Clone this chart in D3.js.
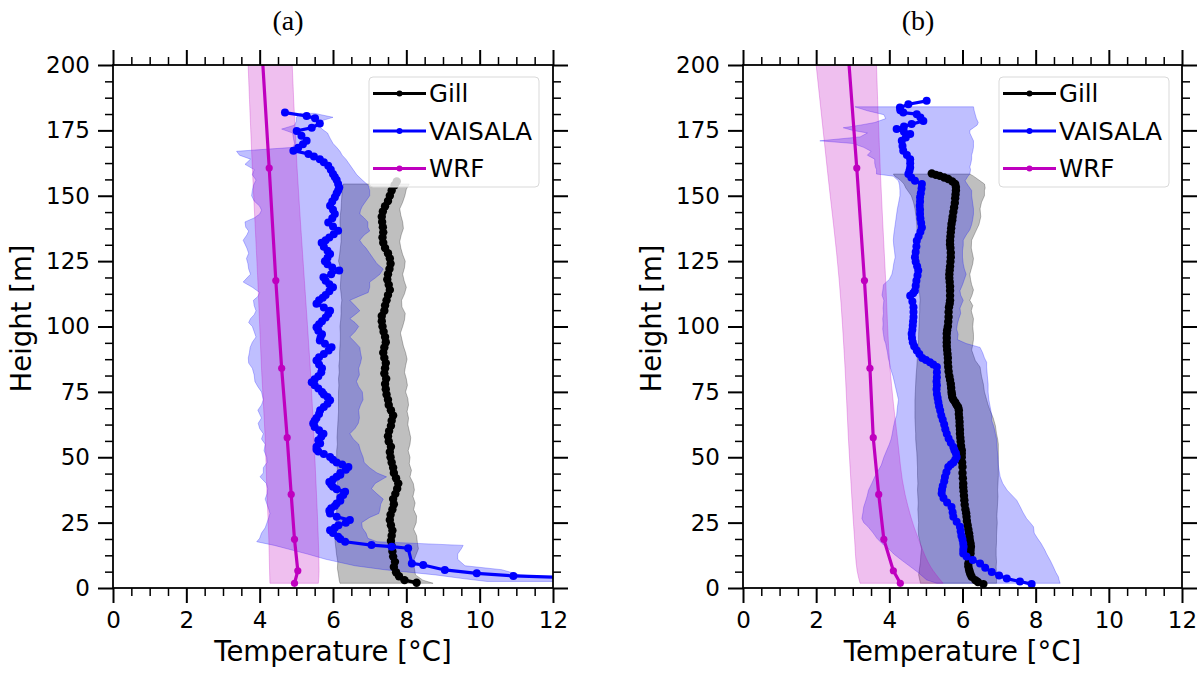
<!DOCTYPE html>
<html><head><meta charset="utf-8">
<script src="https://cdn.jsdelivr.net/npm/d3@7"></script>
<style>body{margin:0;background:#fff}</style>
</head><body>
<script>
// ---------------- DATA ----------------
const xMajorTicks = [0, 2, 4, 6, 8, 10, 12];
const yMajorTicks = [0, 25, 50, 75, 100, 125, 150, 175, 200];
const seriesNames = ["Gill", "VAISALA", "WRF"];

// WRF model levels (height m) and temperatures
const wrfHeights = [1.8, 6.6, 18.6, 35.8, 57.5, 84, 117.6, 160.6, 213];
const wrfA_T  = [4.95, 5.04, 4.95, 4.86, 4.75, 4.6, 4.44, 4.26, 4.03];
const wrfA_lo = [4.28, 4.27, 4.25, 4.2, 4.15, 4.05, 3.95, 3.8, 3.65];
const wrfA_hi = [5.6, 5.62, 5.6, 5.55, 5.48, 5.38, 5.22, 5.02, 4.85];
const wrfB_T  = [4.3, 4.11, 3.85, 3.71, 3.56, 3.47, 3.32, 3.11, 2.83];
const wrfB_lo = [3.2, 3.12, 3.05, 2.97, 2.88, 2.79, 2.63, 2.3, 1.9];
const wrfB_hi = [5.47, 5.2, 4.8, 4.43, 4.22, 4.02, 3.9, 3.75, 3.62];

// Gill profile (a): [height, temperature]
const gillA = [[2,8.28],[3,7.95],[4.5,7.8],[6,7.72],[8,7.66],[10,7.69],[12,7.64],[14,7.62],[16,7.6],[18,7.58],[20,7.6],[22,7.62],[24,7.58],[26,7.55],[28,7.57],[30,7.62],[32,7.66],[34,7.64],[36,7.7],[38,7.75],[40,7.78],[42,7.72],[44,7.66],[46,7.64],[48,7.6],[50,7.57],[52,7.55],[54,7.58],[56,7.52],[58,7.5],[60,7.53],[62,7.58],[64,7.6],[66,7.64],[68,7.58],[70,7.52],[72,7.5],[74,7.46],[76,7.44],[78,7.42],[80,7.45],[82,7.4],[84,7.42],[86,7.44],[88,7.4],[90,7.37],[92,7.4],[94,7.44],[96,7.42],[98,7.38],[100,7.35],[102,7.33],[104,7.33],[106,7.4],[108,7.42],[110,7.46],[112,7.5],[114,7.55],[116,7.52],[118,7.48],[120,7.5],[122,7.54],[124,7.57],[126,7.55],[128,7.5],[130,7.42],[132,7.37],[134,7.35],[136,7.37],[138,7.36],[140,7.34],[142,7.33],[144,7.36],[146,7.42],[148,7.5],[150,7.55],[152,7.6],[154,7.68],[155.5,7.74]];

// Gill spread (a): [height, low, high]
const gillBandA = [[1.8,6.19,8.73],[3,6.17,8.45],[5,6.15,8.25],[7.5,6.12,8.22],[10,6.13,8.19],[12.5,6.1,8.26],[15,6.08,8.33],[17.5,6.06,8.3],[20,6.05,8.28],[22.5,6.07,8.2],[25,6.08,8.27],[27.5,6.1,8.28],[30,6.1,8.2],[32.5,6.11,8.24],[35,6.1,8.18],[37.5,6.12,8.22],[40,6.12,8.19],[42.5,6.1,8.1],[45,6.12,8.14],[47.5,6.11,8.08],[50,6.1,8.1],[52.5,6.1,8.05],[55,6.12,8.1],[57.5,6.11,8.12],[60,6.12,8.08],[62.5,6.13,8.04],[65,6.14,8.06],[67.5,6.15,8.02],[70,6.15,8.06],[72.5,6.15,8.04],[75,6.15,7.98],[77.5,6.16,8.03],[80,6.15,8.0],[82.5,6.17,7.95],[85,6.16,7.98],[87.5,6.18,8.02],[90,6.18,7.98],[92.5,6.19,7.92],[95,6.2,7.88],[97.5,6.2,7.84],[100,6.19,7.9],[102.5,6.21,7.95],[105,6.22,7.97],[107.5,6.22,7.88],[110,6.24,7.87],[112.5,6.22,7.95],[115,6.2,8.0],[117.5,6.21,7.94],[120,6.22,7.9],[122.5,6.2,7.95],[125,6.15,7.97],[127.5,6.18,7.9],[130,6.2,7.85],[132.5,6.22,7.82],[135,6.22,7.86],[137.5,6.2,7.92],[140,6.19,7.9],[142.5,6.2,7.85],[145,6.22,7.82],[147.5,6.23,7.9],[150,6.24,7.96],[152.5,6.26,8.0],[154.5,6.28,8.08]];

// VAISALA profile (a): [height, temperature]
const vaisA = [[3.8,12.8],[4.6,10.92],[5.6,9.92],[6.9,9.05],[8.8,8.46],[9.4,8.15],[15.2,8.05],[15.8,7.6],[16.4,7.05],[17.7,6.33],[18.7,6.2],[19.6,6.14],[21,6.0],[22.1,5.92],[23,6.05],[24,6.15],[25,6.35],[26,6.46],[27.2,6.1],[28.5,5.92],[29.5,5.9],[30.5,5.95],[31.4,6.05],[32.3,6.1],[33.4,6.2],[34.5,6.2],[35.6,6.28],[36.8,6.33],[37.8,6.1],[38.7,6.0],[39.6,5.95],[40.5,5.9],[41.5,6.0],[42.5,6.1],[43.3,6.2],[44,6.2],[45.2,6.35],[46.3,6.42],[47.2,6.25],[48,6.1],[49,6.0],[50.1,5.92],[51.2,5.75],[52.2,5.6],[53,5.55],[54,5.55],[55.3,5.65],[56.5,5.6],[57.8,5.68],[59,5.74],[60.3,5.62],[61.6,5.5],[62.9,5.46],[64,5.5],[65,5.55],[66.5,5.62],[68,5.65],[69.2,5.75],[70.5,5.85],[71.8,5.92],[73,5.85],[74,5.75],[75,5.7],[76.3,5.6],[77.5,5.5],[78.7,5.42],[79.8,5.5],[81,5.6],[82.5,5.68],[84,5.7],[85.5,5.62],[87,5.55],[88.2,5.62],[89.5,5.75],[90.8,5.88],[92.1,5.96],[93.4,5.78],[94.6,5.64],[95.8,5.66],[97,5.7],[98.4,5.6],[99.7,5.55],[100.9,5.62],[102,5.7],[103.4,5.8],[104.8,5.87],[106,5.92],[107.3,5.75],[108.7,5.55],[110,5.62],[111,5.72],[112,5.8],[113.5,5.9],[115,6.0],[116.2,5.9],[117.5,5.8],[118.8,5.74],[120,5.95],[121.4,6.17],[122.6,5.98],[123.8,5.85],[125,5.78],[126.3,5.85],[127.7,5.92],[129,5.85],[130.5,5.75],[132,5.69],[133,5.8],[134,5.9],[135.3,6.02],[136.6,6.14],[138.2,6.0],[139.8,5.87],[141.4,5.98],[143,6.05],[144.6,6.0],[146.2,5.92],[147.8,5.98],[149.4,6.05],[151,6.1],[152,6.14],[153.2,6.17],[154.5,6.14],[156,6.1],[157.2,6.05],[158.3,6.0],[159.9,5.94],[161.5,5.87],[162.8,5.75],[164,5.64],[165,5.48],[166,5.33],[167.2,4.92],[168.4,5.05],[169.7,5.18],[171,5.28],[172.9,5.14],[174.8,5.01],[176,5.42],[177.6,5.64],[179.6,5.51],[180.5,5.28],[181.8,4.69]];

// VAISALA spread (a): [height, low, high]
const vaisBandA = [[2.5,10.2,13],[3.5,9.6,12.5],[5,8.8,11.1],[7,7.4,10.6],[8.5,6.6,9.6],[11,5.8,9.4],[13,5.3,9.4],[15,4.75,9.5],[16.3,4.4,9.55],[17.7,3.92,7.2],[19,4.0,6.95],[21,4.05,6.9],[23,4.15,6.8],[25,4.2,6.78],[27,4.25,7.0],[28.5,4.28,7.25],[30,4.25,7.28],[32,4.2,7.3],[34,4.15,7.37],[36,4.2,7.2],[38,4.22,7.05],[40,4.18,7.15],[42.5,4.01,7.46],[44,4.1,7.2],[46,4.1,7.0],[48,4.2,6.85],[50,4.19,6.82],[52.5,4.12,6.75],[55,4.15,6.7],[57,4.05,6.55],[59,4.1,6.46],[61,4.0,6.6],[63,3.96,6.69],[65,4.05,6.72],[68,3.95,6.7],[70,4.05,6.75],[72,4.1,6.82],[75,4.05,6.8],[77,3.95,6.7],[79,3.87,6.64],[81.5,3.85,6.72],[84,3.8,6.7],[86,3.7,6.75],[88,3.69,6.78],[90,3.72,6.75],[92,3.74,6.73],[94,3.8,6.6],[96,3.9,6.46],[98,3.85,6.6],[100,3.8,6.7],[101.5,3.7,6.6],[103,3.75,6.46],[104.5,3.85,6.6],[106,3.9,6.73],[108,3.85,6.6],[110,3.83,6.46],[111.5,3.95,6.7],[113,4.0,6.96],[115,3.8,7.0],[117,3.55,7.0],[118.5,3.65,7.15],[120,3.75,7.28],[122,3.7,7.37],[124,3.68,7.2],[126,3.64,7.1],[128,3.7,7.0],[130,3.65,6.9],[131.5,3.6,6.8],[133,3.55,6.73],[135,3.65,6.85],[136.5,3.7,7.0],[138,3.62,6.95],[140,3.6,6.95],[141.5,3.85,6.85],[143,4.0,6.73],[144.5,4.05,6.75],[146,4.0,6.8],[148,3.85,6.9],[150,3.78,7.0],[152,3.8,7.0],[154,3.83,6.96],[156,3.9,6.8],[158,3.8,6.65],[160,3.85,6.55],[162,3.6,6.45],[164,3.75,6.35],[165.5,3.45,6.25],[167,3.37,6.19],[168.5,4.92,6.1],[170,4.95,6.0],[172,4.92,5.92],[174,4.9,5.85],[175.5,4.6,5.7],[177,4.95,5.6],[178.5,5.0,5.65],[180,5.0,6.0],[181.5,5.1,5.5]];

// Gill profile (b)
const gillB = [[1.5,6.57],[2.3,6.42],[3,6.35],[4.3,6.25],[5.2,6.22],[6,6.2],[7,6.18],[8.2,6.16],[9.4,6.16],[10.7,6.18],[12,6.2],[13.2,6.22],[14.5,6.22],[15.8,6.23],[17,6.22],[18.3,6.2],[19.6,6.19],[20.9,6.18],[22.4,6.16],[24,6.14],[25.6,6.12],[27.2,6.11],[28.6,6.1],[30,6.08],[31.8,6.06],[33.6,6.05],[35.3,6.04],[37,6.03],[38.5,6.02],[40,6.02],[42,6.01],[44,6.0],[46.3,6.0],[48,5.99],[50,5.98],[51.4,5.98],[52.7,5.98],[54.3,5.96],[56,5.95],[57.5,5.94],[59,5.93],[60.5,5.93],[62,5.92],[63.5,5.92],[65,5.91],[66.5,5.9],[68,5.9],[69.1,5.88],[70,5.84],[71,5.8],[72,5.75],[72.9,5.72],[74,5.71],[75,5.7],[76.5,5.69],[78,5.68],[79.5,5.66],[81,5.64],[82.8,5.62],[84.5,5.61],[86.2,5.6],[88,5.6],[89.5,5.59],[91,5.58],[92.5,5.57],[94,5.57],[95.6,5.57],[97.2,5.57],[98.6,5.58],[100,5.6],[101.8,5.61],[103.6,5.62],[105.5,5.62],[107.4,5.63],[108.7,5.65],[110,5.66],[111.8,5.66],[113.7,5.66],[115.3,5.66],[117,5.65],[118.5,5.64],[120,5.64],[121.5,5.65],[123,5.66],[124.8,5.67],[126.5,5.68],[128.2,5.68],[130,5.67],[131.4,5.66],[132.8,5.66],[134.4,5.67],[136,5.68],[137.6,5.69],[139.2,5.7],[140.6,5.72],[142,5.73],[143.8,5.75],[145.5,5.77],[147.2,5.79],[149,5.8],[150.5,5.81],[152,5.82],[153.3,5.82],[154.5,5.8],[155.5,5.72],[156.4,5.61],[157,5.5],[157.6,5.38],[158,5.27],[158.5,5.16]];

// Gill spread (b)
const gillBandB = [[1.8,4.85,6.93],[5,4.8,6.93],[8,4.83,6.92],[10,4.85,6.93],[12.5,4.86,6.92],[15,4.88,6.92],[17.5,4.84,6.93],[20,4.8,6.93],[22.5,4.79,6.94],[25,4.8,6.95],[27.5,4.79,6.94],[30,4.78,6.95],[32.5,4.79,6.96],[35,4.78,6.97],[37.5,4.77,6.96],[40,4.78,6.97],[43,4.77,6.98],[46,4.77,6.98],[49,4.76,6.98],[52,4.75,6.98],[55,4.73,6.98],[57,4.72,6.96],[59,4.72,6.93],[62,4.71,6.9],[65,4.7,6.84],[68,4.7,6.75],[70,4.7,6.7],[72,4.7,6.66],[75,4.71,6.6],[78,4.72,6.57],[81,4.73,6.52],[84.5,4.75,6.48],[87,4.76,6.35],[89,4.77,6.3],[91,4.78,6.25],[93,4.79,6.28],[95,4.8,6.3],[97,4.8,6.3],[100,4.81,6.28],[103,4.82,6.3],[106,4.83,6.24],[108,4.83,6.28],[110,4.84,6.2],[112,4.83,6.26],[114,4.82,6.3],[116,4.81,6.25],[118,4.8,6.22],[120,4.8,6.2],[122,4.79,6.24],[124,4.79,6.28],[126,4.78,6.3],[128,4.78,6.27],[130,4.77,6.24],[133,4.77,6.25],[136,4.76,6.35],[139,4.75,6.45],[142,4.73,6.5],[145,4.7,6.48],[147.5,4.66,6.52],[150,4.6,6.6],[152,4.5,6.6],[153,4.45,6.62],[154.5,4.4,6.6],[156,4.3,6.45],[157.5,4.15,6.3],[158.3,4.11,6.2]];

// VAISALA profile (b)
const vaisB = [[1.5,7.89],[2.5,7.57],[3.6,7.21],[4.8,7.0],[6.1,6.8],[7.7,6.62],[9.4,6.48],[10.7,6.28],[12,6.11],[13.2,6.02],[14.5,6.02],[15.8,6.03],[17,6.02],[18.5,6.0],[20,5.97],[21.7,5.95],[23.4,5.93],[25.3,5.84],[27.2,5.75],[29,5.73],[31,5.7],[32.7,5.58],[34.4,5.48],[36.1,5.43],[37.6,5.44],[39,5.46],[40.8,5.5],[42.4,5.52],[44.3,5.56],[46.3,5.61],[47.2,5.68],[48,5.75],[49,5.8],[50.1,5.84],[51.5,5.82],[52.7,5.78],[53.9,5.75],[55.5,5.68],[57.2,5.62],[59,5.57],[60.7,5.53],[62.5,5.5],[64.3,5.46],[66,5.42],[67.9,5.39],[69.5,5.36],[71,5.34],[72.7,5.32],[74.2,5.3],[76,5.29],[77.5,5.3],[79,5.29],[80.6,5.3],[82.5,5.3],[84.5,5.3],[85.5,5.2],[86.3,5.11],[87.2,5.0],[88,4.9],[89.5,4.82],[90.8,4.75],[92.4,4.68],[94,4.64],[95.6,4.62],[97.2,4.61],[98.8,4.63],[100.4,4.64],[102,4.65],[103.6,4.66],[105.5,4.66],[107.4,4.66],[109.6,4.63],[111.8,4.57],[112.7,4.65],[113.7,4.7],[115.6,4.72],[117.5,4.74],[119.5,4.77],[121.4,4.79],[123,4.76],[124.8,4.72],[126.5,4.7],[128.5,4.72],[130.6,4.74],[132.8,4.75],[134.5,4.8],[136.2,4.85],[137.9,4.89],[139.6,4.87],[141.3,4.85],[143,4.84],[144.6,4.84],[146.2,4.83],[147.8,4.84],[149.4,4.84],[151,4.86],[152.8,4.88],[154.5,4.89],[155.7,4.7],[157,4.6],[158.3,4.52],[159.6,4.55],[160.8,4.57],[162.4,4.57],[164,4.57],[165.6,4.48],[167.2,4.38],[169,4.36],[171,4.34],[172.3,4.45],[173.6,4.57],[174.5,4.4],[175.5,4.2],[176.5,4.4],[177.4,4.61],[178.6,4.93],[179.9,4.85],[181.2,4.75],[181.8,4.38],[182.7,4.3],[183.7,4.29],[185,4.52],[186.3,5.02]];

// VAISALA spread (b)
const vaisBandB = [[1.8,5.3,8.67],[3.1,5.02,8.64],[4.3,4.92,8.62],[6,4.78,8.55],[8.2,4.57,8.48],[10.5,4.35,8.4],[13,4.12,8.3],[14.5,4.02,8.25],[17,3.8,8.15],[19,3.66,8.05],[21,3.56,7.96],[23.4,3.42,7.94],[25,3.3,7.85],[26.6,3.25,7.75],[29,3.28,7.65],[31,3.3,7.58],[33.6,3.36,7.48],[35.5,3.4,7.35],[37.4,3.43,7.22],[40,3.52,7.1],[42.5,3.6,7.03],[45,3.7,7.0],[47,3.78,6.98],[50,3.85,6.97],[52.7,3.93,6.95],[55,4.0,6.94],[57,4.05,6.93],[59,4.08,6.9],[61.5,4.11,6.86],[64,4.15,6.8],[66,4.2,6.8],[69,4.22,6.76],[72,4.25,6.72],[75,4.2,6.7],[78,4.15,6.7],[81,4.1,6.68],[84.5,4.02,6.66],[86.3,4.0,6.66],[88,3.97,6.6],[90,3.95,6.55],[92,3.92,6.48],[93.5,3.9,6.1],[95,3.86,5.86],[97,3.84,5.88],[99,3.82,5.84],[101,3.83,5.86],[103,3.82,5.9],[105,3.84,5.95],[107,3.83,5.93],[110,3.85,6.02],[112,3.8,5.95],[113.7,3.82,5.93],[116,3.84,6.0],[118,4.0,6.05],[120,4.07,6.1],[122,4.1,6.05],[124,4.12,6.02],[126.5,4.16,6.0],[129,4.14,6.0],[131,4.12,6.02],[133,4.11,6.02],[135,4.12,6.1],[137,4.14,6.2],[139,4.16,6.25],[141,4.18,6.28],[143,4.2,6.3],[145,4.22,6.3],[147,4.25,6.28],[150,4.29,6.25],[152,4.29,6.25],[154,4.28,6.15],[155.7,4.25,6.07],[157.5,4.11,6.15],[158.3,3.65,6.2],[160,3.65,6.22],[161,3.62,6.2],[162.5,3.6,6.23],[164,3.6,6.25],[165.5,3.4,6.25],[167,3.5,6.28],[168.5,3.3,6.3],[170,3.0,6.3],[171,2.1,6.3],[172.5,3.2,6.25],[174,3.4,6.2],[175,3.0,6.2],[176,2.74,6.3],[177,3.2,6.4],[178,3.6,6.43],[179.5,3.9,6.38],[181,3.85,6.35],[182.5,3.4,6.32],[184,3.06,6.3]];

// ---------------- DRAWING ----------------
const W = 1204, H = 675;
const COL = {gill: "#000000", vais: "#0000ff", wrf: "#bf00bf"};
const FONT = "DejaVu Sans";
const svg = d3.select("body").append("svg").attr("width", W).attr("height", H)
  .style("background", "#fff");
const defs = svg.append("defs");

function drawPanel(o) {
  const x = d3.scaleLinear().domain([0, 12]).range([o.left, o.right]);
  const y = d3.scaleLinear().domain([0, 200]).range([o.bottom, o.top]);
  const g = svg.append("g");
  const clipId = "clip" + o.id;
  defs.append("clipPath").attr("id", clipId).append("rect")
    .attr("x", o.left).attr("y", o.top).attr("width", o.right - o.left).attr("height", o.bottom - o.top);
  const plot = g.append("g").attr("clip-path", `url(#${clipId})`);

  const area = d3.area().y(d => y(d[0])).x0(d => x(d[1])).x1(d => x(d[2]));
  const areaSmooth = d3.area().y(d => y(d[0])).x0(d => x(d[1])).x1(d => x(d[2])).curve(d3.curveMonotoneY);
  const line = d3.line().x(d => x(d[1])).y(d => y(d[0]));

  function band(data, color, gen) {
    plot.append("path").datum(data).attr("d", gen || area)
      .attr("fill", color).attr("fill-opacity", 0.25)
      .attr("stroke", color).attr("stroke-opacity", 0.25).attr("stroke-width", 1);
  }
  function profile(data, color, r, lw) {
    plot.append("path").datum(data).attr("d", line)
      .attr("fill", "none").attr("stroke", color).attr("stroke-width", lw).attr("stroke-linejoin", "round");
    plot.append("g").selectAll("circle").data(data).join("circle")
      .attr("cx", d => x(d[1])).attr("cy", d => y(d[0])).attr("r", r).attr("fill", color);
  }

  const wrfProfile = wrfHeights.map((h, i) => [h, o.wrfT[i]]);
  const wrfBand = wrfHeights.map((h, i) => [h, o.wrfLo[i], o.wrfHi[i]]);

  band(o.gillBand, COL.gill);
  band(o.vaisBand, COL.vais);
  band(wrfBand, COL.wrf, areaSmooth);
  profile(o.gill, COL.gill, 4.2, 3.4);
  profile(o.vais, COL.vais, 4.0, 3.2);
  profile(wrfProfile, COL.wrf, 3.6, 3.2);

  // Axes
  const xMinor = d3.range(0, 12.001, 0.5).filter(v => v % 2 !== 0);
  const yMinor = d3.range(0, 200.001, 6.25).filter(v => v % 25 !== 0);
  function axis(gen, tr, sw) {
    const a = g.append("g").attr("transform", tr).call(gen);
    a.select(".domain").remove();
    a.selectAll(".tick line").attr("stroke", "#000").attr("stroke-width", sw);
    a.selectAll("text").attr("font-family", FONT).attr("font-size", 23).attr("fill", "#000");
    return a;
  }
  axis(d3.axisBottom(x).tickValues(xMajorTicks).tickSize(15).tickPadding(9).tickFormat(d3.format("d")), `translate(0,${o.bottom})`, 2);
  axis(d3.axisBottom(x).tickValues(xMinor).tickSize(8).tickFormat(""), `translate(0,${o.bottom})`, 1.5);
  axis(d3.axisTop(x).tickValues(xMajorTicks).tickSize(15).tickFormat(""), `translate(0,${o.top})`, 2);
  axis(d3.axisTop(x).tickValues(xMinor).tickSize(8).tickFormat(""), `translate(0,${o.top})`, 1.5);
  axis(d3.axisLeft(y).tickValues(yMajorTicks).tickSize(15).tickPadding(8).tickFormat(d3.format("d")), `translate(${o.left},0)`, 2);
  axis(d3.axisLeft(y).tickValues(yMinor).tickSize(8).tickFormat(""), `translate(${o.left},0)`, 1.5);
  axis(d3.axisRight(y).tickValues(yMajorTicks).tickSize(15).tickFormat(""), `translate(${o.right},0)`, 2);
  axis(d3.axisRight(y).tickValues(yMinor).tickSize(8).tickFormat(""), `translate(${o.right},0)`, 1.5);

  g.append("rect").attr("x", o.left).attr("y", o.top)
    .attr("width", o.right - o.left).attr("height", o.bottom - o.top)
    .attr("fill", "none").attr("stroke", "#000").attr("stroke-width", 1.8);

  // Labels
  g.append("text").attr("x", (o.left + o.right) / 2).attr("y", 661)
    .attr("text-anchor", "middle").attr("font-family", FONT).attr("font-size", 27.5)
    .text("Temperature [°C]");
  g.append("text").attr("transform", `translate(${o.left - 82},${(o.top + o.bottom) / 2 - 8}) rotate(-90)`)
    .attr("text-anchor", "middle").attr("font-family", FONT).attr("font-size", 27.5)
    .text("Height [m]");
  g.append("text").attr("x", o.left + 175).attr("y", 30)
    .attr("text-anchor", "middle").attr("font-family", "Liberation Serif").attr("font-size", 28)
    .text(o.title);

  // Legend
  const lg = g.append("g").attr("transform", `translate(${o.left + 256},${77})`);
  lg.append("rect").attr("width", 170).attr("height", 110).attr("rx", 4)
    .attr("fill", "#fff").attr("fill-opacity", 0.8).attr("stroke", "#d9d9d9").attr("stroke-width", 1);
  const cols = [COL.gill, COL.vais, COL.wrf];
  seriesNames.forEach((name, i) => {
    const cy = 16.5 + i * 37.5;
    lg.append("line").attr("x1", 4).attr("x2", 57).attr("y1", cy).attr("y2", cy)
      .attr("stroke", cols[i]).attr("stroke-width", 3);
    lg.append("circle").attr("cx", 30.5).attr("cy", cy).attr("r", 3).attr("fill", cols[i]);
    lg.append("text").attr("x", 60).attr("y", cy).attr("dy", "0.36em")
      .attr("font-family", FONT).attr("font-size", 24.5).text(name);
  });
}

drawPanel({id: "a", title: "(a)", left: 113, right: 553, top: 65, bottom: 588,
  gill: gillA, gillBand: gillBandA, vais: vaisA, vaisBand: vaisBandA,
  wrfT: wrfA_T, wrfLo: wrfA_lo, wrfHi: wrfA_hi});
drawPanel({id: "b", title: "(b)", left: 743, right: 1182, top: 65, bottom: 588,
  gill: gillB, gillBand: gillBandB, vais: vaisB, vaisBand: vaisBandB,
  wrfT: wrfB_T, wrfLo: wrfB_lo, wrfHi: wrfB_hi});
</script>
</body></html>
